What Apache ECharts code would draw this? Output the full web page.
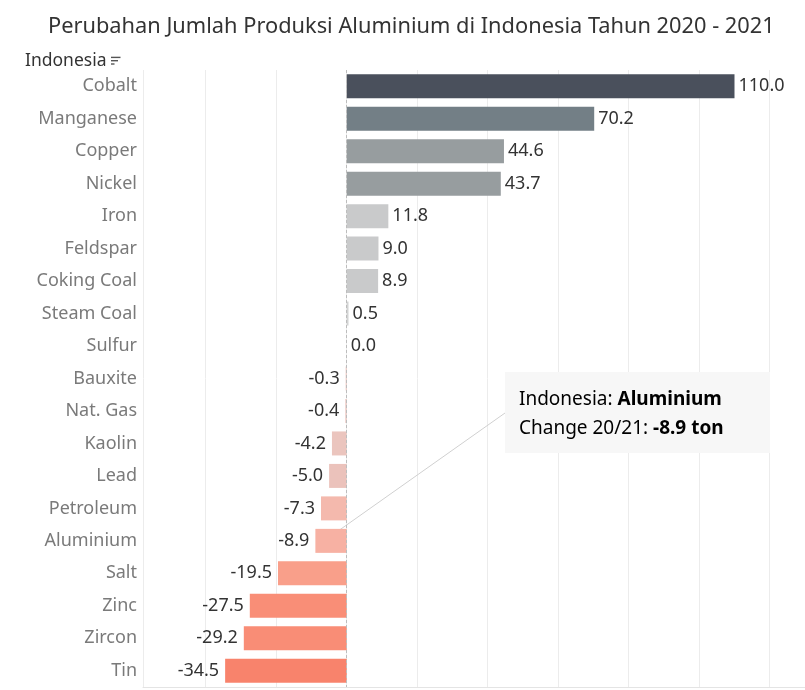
<!DOCTYPE html>
<html>
<head>
<meta charset="utf-8">
<script src="https://cdn.jsdelivr.net/npm/echarts@6/dist/echarts.min.js"></script>
<style>
  html, body { margin: 0; padding: 0; background: #fff; }
  #chart { width: 805px; height: 690px; }
</style>
</head>
<body>
<div id="chart"></div>
<script>
// ---- data ----
const categories = ["Cobalt", "Manganese", "Copper", "Nickel", "Iron", "Feldspar", "Coking Coal",
  "Steam Coal", "Sulfur", "Bauxite", "Nat. Gas", "Kaolin", "Lead", "Petroleum", "Aluminium",
  "Salt", "Zinc", "Zircon", "Tin"];
const changeValues = [110.0, 70.2, 44.6, 43.7, 11.8, 9.0, 8.9, 0.5, 0.0, -0.3, -0.4, -4.2, -5.0,
  -7.3, -8.9, -19.5, -27.5, -29.2, -34.5];
const barColors = ["#4a505c", "#737f86", "#979d9f", "#979d9f", "#c9cacb", "#c9cacb", "#c9cacb",
  "#d2d3d3", "#d2d3d3", "#ebc6c0", "#ebc6c0", "#ebc5be", "#ebc2bb", "#f4b9ad", "#f7b1a3",
  "#f99f8a", "#f98e77", "#f98d76", "#f8836c"];
const highlightCategory = "Aluminium";
const highlightValue = -8.9;

const FONT = "Noto Sans";
const chart = echarts.init(document.getElementById('chart'), null, { renderer: 'canvas' });

const barData = changeValues.map((v, i) => ({
  value: v,
  itemStyle: { color: barColors[i] },
  label: {
    position: v < 0 ? 'left' : 'right',
    distance: v < 0 ? 6 : 4
  }
}));

chart.setOption({
  animation: false,
  title: {
    text: "Perubahan Jumlah Produksi Aluminium di Indonesia Tahun 2020 - 2021",
    left: 43, top: 11,
    textStyle: { fontFamily: FONT, fontSize: 21.8, fontWeight: 'normal', color: '#333333' }
  },
  grid: { left: 143, right: 0, top: 70, bottom: 3, containLabel: false },
  xAxis: {
    type: 'value',
    min: -57.8, max: 130, splitNumber: 9,
    axisLabel: { show: false },
    axisTick: { show: false },
    axisLine: { show: true, lineStyle: { color: '#e4e4e4', width: 1 } },
    splitLine: { show: true, lineStyle: { color: '#ececec', width: 1 } }
  },
  yAxis: {
    type: 'category',
    inverse: true,
    data: categories,
    axisLine: { show: false },
    axisTick: { show: false },
    splitLine: { show: false },
    axisLabel: { color: '#7a7a7a', fontFamily: FONT, fontSize: 18, margin: 6 }
  },
  series: [{
    type: 'bar',
    data: barData,
    barWidth: 24,
    label: {
      show: true,
      color: '#333333', fontFamily: FONT, fontSize: 18,
      formatter: p => p.value.toFixed(1)
    },
    markLine: {
      silent: true, symbol: 'none',
      label: { show: false },
      lineStyle: { color: '#bdbdbd', type: [3, 2], width: 1 },
      data: [{ xAxis: 0 }]
    }
  }]
});

// header + sort icon + tooltip-like callout
const start = chart.convertToPixel({ xAxisIndex: 0, yAxisIndex: 0 },
  [highlightValue * 0.72, categories.indexOf(highlightCategory) - 0.25]);
const boxX = 505, boxY = 372, boxW = 265, boxH = 81;

chart.setOption({
  graphic: [
    { type: 'text', left: 25, top: 52,
      style: { text: 'Indonesia', fontFamily: FONT, fontSize: 17.5, fill: '#333333' } },
    { type: 'rect', shape: { x: 111, y: 56.7, width: 9.5, height: 1.4 }, style: { fill: '#555' } },
    { type: 'rect', shape: { x: 111, y: 60.0, width: 7, height: 1.4 }, style: { fill: '#555' } },
    { type: 'rect', shape: { x: 111, y: 63.3, width: 3.5, height: 1.4 }, style: { fill: '#555' } },
    { type: 'line', shape: { x1: start[0], y1: start[1], x2: boxX, y2: boxY + 41 },
      style: { stroke: '#d0d0d0', lineWidth: 1 } },
    { type: 'rect', shape: { x: boxX, y: boxY, width: boxW, height: boxH },
      style: { fill: '#f7f7f7' } },
    { type: 'text', x: boxX + 14, y: boxY + 13,
      style: {
        text: '{l|Indonesia: }{b|' + highlightCategory + '}\n{l|Change 20/21: }{b|' + highlightValue.toFixed(1) + ' ton}',
        fontFamily: FONT, fontSize: 19, lineHeight: 29,
        rich: {
          l: { fontFamily: FONT, fontSize: 19, color: '#8a8a8a', lineHeight: 29 },
          b: { fontFamily: FONT, fontSize: 19, color: '#333333', fontWeight: 'bold', lineHeight: 29 }
        }
      } }
  ]
});
</script>
</body>
</html>
